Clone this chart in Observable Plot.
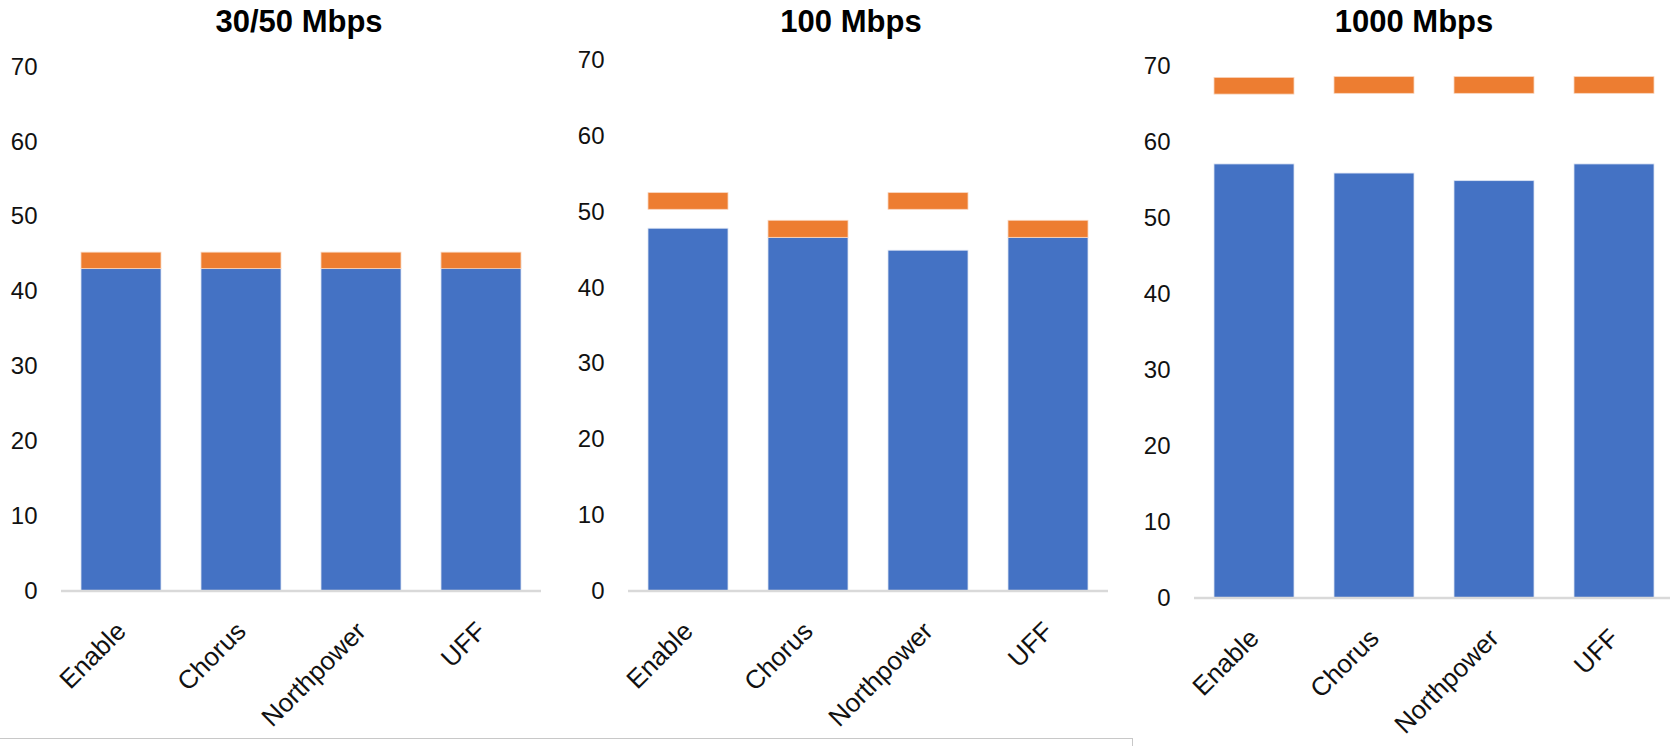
<!DOCTYPE html>
<html>
<head>
<meta charset="utf-8">
<script src="https://cdn.jsdelivr.net/npm/d3@7"></script>
<script src="https://cdn.jsdelivr.net/npm/@observablehq/plot@0.6"></script>
<style>
  html, body { margin: 0; padding: 0; background: #fff; overflow: hidden; }
  #root { position: relative; width: 1670px; height: 746px; overflow: hidden; font-family: "Liberation Sans", Arial, sans-serif; }
  .panel { position: absolute; top: 0; }
  .panel svg { max-width: none !important; }
  .title { position: absolute; font-weight: bold; font-size: 31px; color: #000; white-space: nowrap; transform: translateX(-50%); }
  #frame { position: absolute; left: 0; top: 738px; width: 1132px; height: 20px; border-top: 1.5px solid #c8c8c8; border-right: 1.5px solid #c8c8c8; }
</style>
</head>
<body>
<div id="root"><div id="frame"></div></div>
<script>
// ---- data ----
const providers = ["Enable", "Chorus", "Northpower", "UFF"];
const panelTitles = ["30/50 Mbps", "100 Mbps", "1000 Mbps"];
const yTicks = [0, 10, 20, 30, 40, 50, 60, 70];

// blue series (bars from 0)
const blue3050 = [43.0, 43.0, 43.0, 44.1];
const blue100 = [47.8, 46.6, 44.9, 46.6];
const blue1000 = [57.1, 55.9, 54.9, 57.1];

// orange series (floating band low..high)
const orangeLow3050 = [43.0, 43.0, 43.0, 43.0];
const orangeHigh3050 = [45.2, 45.2, 45.2, 45.2];
const orangeLow100 = [50.3, 46.6, 50.3, 46.6];
const orangeHigh100 = [52.5, 48.85, 52.5, 48.85];
const orangeLow1000 = [66.3, 66.4, 66.4, 66.4];
const orangeHigh1000 = [68.5, 68.6, 68.6, 68.6];

// ---- layout (pixels) ----
const layouts = [
  {left: 0,    width: 561, marginLeft: 61, marginRight: 20, marginTop: 66.5, marginBottom: 155.5, titleX: 299},
  {left: 560,  width: 568, marginLeft: 68, marginRight: 20, marginTop: 60,   marginBottom: 155.5, titleX: 851},
  {left: 1130, width: 560, marginLeft: 64, marginRight: 16, marginTop: 66,   marginBottom: 148.5, titleX: 1414}
];
const blues = [blue3050, blue100, blue1000];
const lows = [orangeLow3050, orangeLow100, orangeLow1000];
const highs = [orangeHigh3050, orangeHigh100, orangeHigh1000];

const root = document.getElementById("root");

layouts.forEach((L, i) => {
  const rows = providers.map((p, j) => ({provider: p, blue: blues[i][j], lo: lows[i][j], hi: highs[i][j]}));
  const chart = Plot.plot({
    width: L.width,
    height: 746,
    marginLeft: L.marginLeft,
    marginRight: L.marginRight,
    marginTop: L.marginTop,
    marginBottom: L.marginBottom,
    style: {fontFamily: "'Liberation Sans', Arial, sans-serif", fontSize: "24px", color: "#111", background: "transparent", overflow: "visible"},
    x: {domain: providers, paddingInner: 1/3, paddingOuter: 1/6, label: null},
    y: {domain: [0, 70], label: null},
    marks: [
      Plot.barY(rows, {x: "provider", y: "blue", fill: "#4472C4", stroke: "#dbe3f3", strokeWidth: 0.8}),
      Plot.barY(rows, {x: "provider", y1: "lo", y2: "hi", fill: "#ED7D31", stroke: "#f9d6bf", strokeWidth: 0.8}),
      Plot.ruleY([0], {stroke: "#d9d9d9", strokeWidth: 2.5}),
      Plot.axisY({ticks: yTicks, tickSize: 0, tickPadding: 24, fontSize: 24}),
      Plot.axisX({tickSize: 0, tickRotate: -45, tickPadding: 36, fontSize: 26})
    ]
  });
  const wrap = document.createElement("div");
  wrap.className = "panel";
  wrap.style.left = L.left + "px";
  wrap.style.width = L.width + "px";
  wrap.appendChild(chart);
  root.appendChild(wrap);

  const t = document.createElement("div");
  t.className = "title";
  t.textContent = panelTitles[i];
  t.style.left = L.titleX + "px";
  t.style.top = "4px";
  root.appendChild(t);
});
</script>
</body>
</html>
